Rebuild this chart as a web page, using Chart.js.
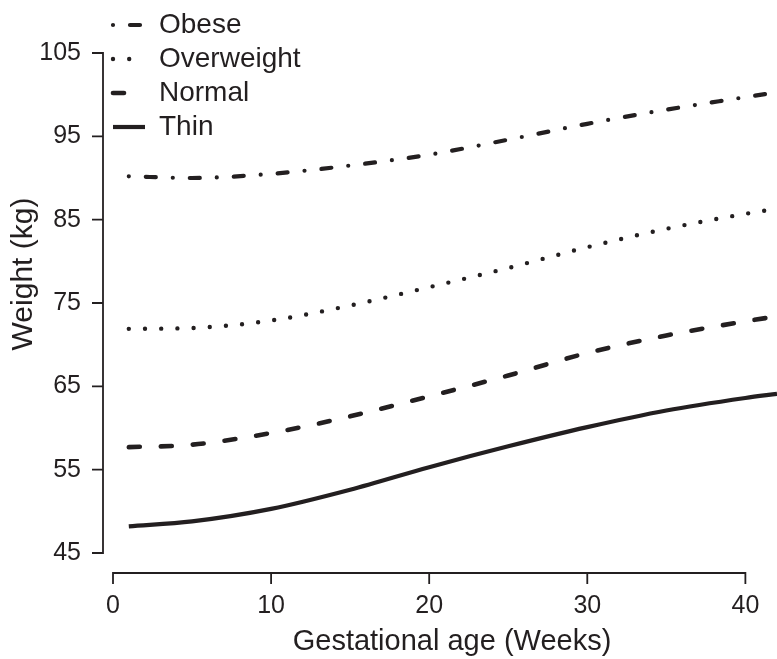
<!DOCTYPE html>
<html><head><meta charset="utf-8">
<script src="https://cdn.jsdelivr.net/npm/chart.js@4.4.1/dist/chart.umd.min.js"></script>
<style>html,body{margin:0;padding:0;background:#fff;overflow:hidden;}</style>
</head><body>
<canvas id="c" width="777" height="659"></canvas>
<script>
// ---- data ----
const weeks      = [1, 5, 10, 15, 20, 25, 30, 35, 40, 42];
const obese      = [90.2, 90.0, 90.5, 91.5, 92.8, 94.6, 96.5, 98.2, 99.7, 100.3];
const overweight = [71.9, 72.0, 72.9, 74.7, 76.9, 79.2, 81.7, 83.9, 85.7, 86.3];
const normal     = [57.7, 58.0, 59.4, 61.4, 63.8, 66.3, 69.0, 71.1, 72.8, 73.4];
const thin       = [48.2, 48.8, 50.3, 52.6, 55.3, 57.8, 60.1, 62.1, 63.6, 64.1];
const seriesNames = ['Obese', 'Overweight', 'Normal', 'Thin'];
const xTicks = [0, 10, 20, 30, 40];
const yTicks = [45, 55, 65, 75, 85, 95, 105];
const xTitle = 'Gestational age (Weeks)';
const yTitle = 'Weight (kg)';

const INK = '#231f20';
const FAMILY = '"Liberation Sans", Arial, Helvetica, sans-serif';
const toPts = arr => arr.map((v, i) => ({x: weeks[i], y: v}));

const styles = [
  {borderDash: [0, 17, 10, 17], borderWidth: 4.2, borderCapStyle: 'round'},
  {borderDash: [0, 16.2], borderWidth: 4.4, borderCapStyle: 'round'},
  {borderDash: [11, 21], borderWidth: 4.6, borderCapStyle: 'round'},
  {borderDash: [], borderWidth: 4.2, borderCapStyle: 'butt'}
];
const values = [obese, overweight, normal, thin];

const datasets = values.map((arr, i) => Object.assign({
  label: seriesNames[i],
  data: toPts(arr),
  borderColor: INK,
  backgroundColor: INK,
  pointRadius: 0,
  pointHoverRadius: 0,
  fill: false,
  clip: false,
  cubicInterpolationMode: 'monotone'
}, styles[i]));

const detachedAxes = {
  id: 'detachedAxes',
  afterLayout(chart) {
    // lift the legend above the plotting region, flush with the x origin
    const lg = chart.legend;
    lg.left = chart.chartArea.left - lg.options.labels.padding;
    lg.top = 5;
    // nudge axis-title centring to match the reference
    chart.scales.y.bottom -= 58;
    chart.scales.x.left += 14;
  },
  afterDraw(chart) {
    const {ctx, chartArea, scales: {x, y}} = chart;
    ctx.save();
    ctx.strokeStyle = INK;
    ctx.lineWidth = 1.8;
    ctx.lineCap = 'butt';
    const ax = chartArea.left - 10;
    const yTop = y.getPixelForValue(yTicks[yTicks.length - 1]);
    const yBot = y.getPixelForValue(yTicks[0]);
    ctx.beginPath();
    ctx.moveTo(ax, yTop); ctx.lineTo(ax, yBot);
    yTicks.forEach(v => { const p = y.getPixelForValue(v); ctx.moveTo(ax + 0.9, p); ctx.lineTo(ax - 11, p); });
    const ay = chartArea.bottom + 20;
    const xL = x.getPixelForValue(xTicks[0]);
    const xR = x.getPixelForValue(xTicks[xTicks.length - 1]);
    ctx.moveTo(xL, ay); ctx.lineTo(xR, ay);
    xTicks.forEach(v => { const p = x.getPixelForValue(v); ctx.moveTo(p, ay - 0.9); ctx.lineTo(p, ay + 11); });
    ctx.stroke();
    ctx.restore();
  }
};

new Chart(document.getElementById('c'), {
  type: 'line',
  data: {datasets},
  plugins: [detachedAxes],
  options: {
    responsive: false,
    animation: false,
    devicePixelRatio: 1,
    layout: {padding: {top: 53, right: 0, bottom: 0, left: 0}},
    plugins: {
      tooltip: {enabled: false},
      legend: {
        position: 'chartArea',
        align: 'start',
        labels: {
          usePointStyle: true,
          pointStyleWidth: 32,
          padding: 6,
          color: INK,
          font: {size: 28, family: FAMILY},
          generateLabels(chart) {
            return chart.data.datasets.map((ds, i) => ({
              text: ds.label,
              fillStyle: 'rgba(0,0,0,0)',
              strokeStyle: ds.borderColor,
              lineWidth: ds.borderWidth,
              lineDash: ds.borderDash,
              lineCap: ds.borderCapStyle,
              pointStyle: 'line',
              rotation: 180,
              fontColor: INK,
              hidden: false,
              datasetIndex: i
            }));
          }
        }
      }
    },
    scales: {
      x: {
        type: 'linear',
        min: 0,
        max: 42,
        afterBuildTicks: s => { s.ticks = xTicks.map(v => ({value: v})); },
        afterFit: s => { s.height = 106; s.paddingLeft = 0; s.paddingRight = 0; },
        grid: {display: false, drawTicks: false},
        border: {display: false},
        ticks: {padding: 38, maxRotation: 0, autoSkip: false, color: INK, font: {size: 25, family: FAMILY}},
        title: {display: true, text: xTitle, color: INK, font: {size: 29, family: FAMILY}, padding: {top: 0, bottom: 0}}
      },
      y: {
        type: 'linear',
        min: yTicks[0],
        max: yTicks[yTicks.length - 1],
        afterBuildTicks: s => { s.ticks = yTicks.map(v => ({value: v})); },
        afterFit: s => { s.width = 113; s.paddingTop = 0; s.paddingBottom = 0; },
        grid: {display: false, drawTicks: false},
        border: {display: false},
        ticks: {padding: 32, color: INK, font: {size: 25, family: FAMILY}},
        title: {display: true, text: yTitle, color: INK, font: {size: 30, family: FAMILY}, padding: {top: 6, bottom: 0}}
      }
    }
  }
});
</script>
</body></html>
